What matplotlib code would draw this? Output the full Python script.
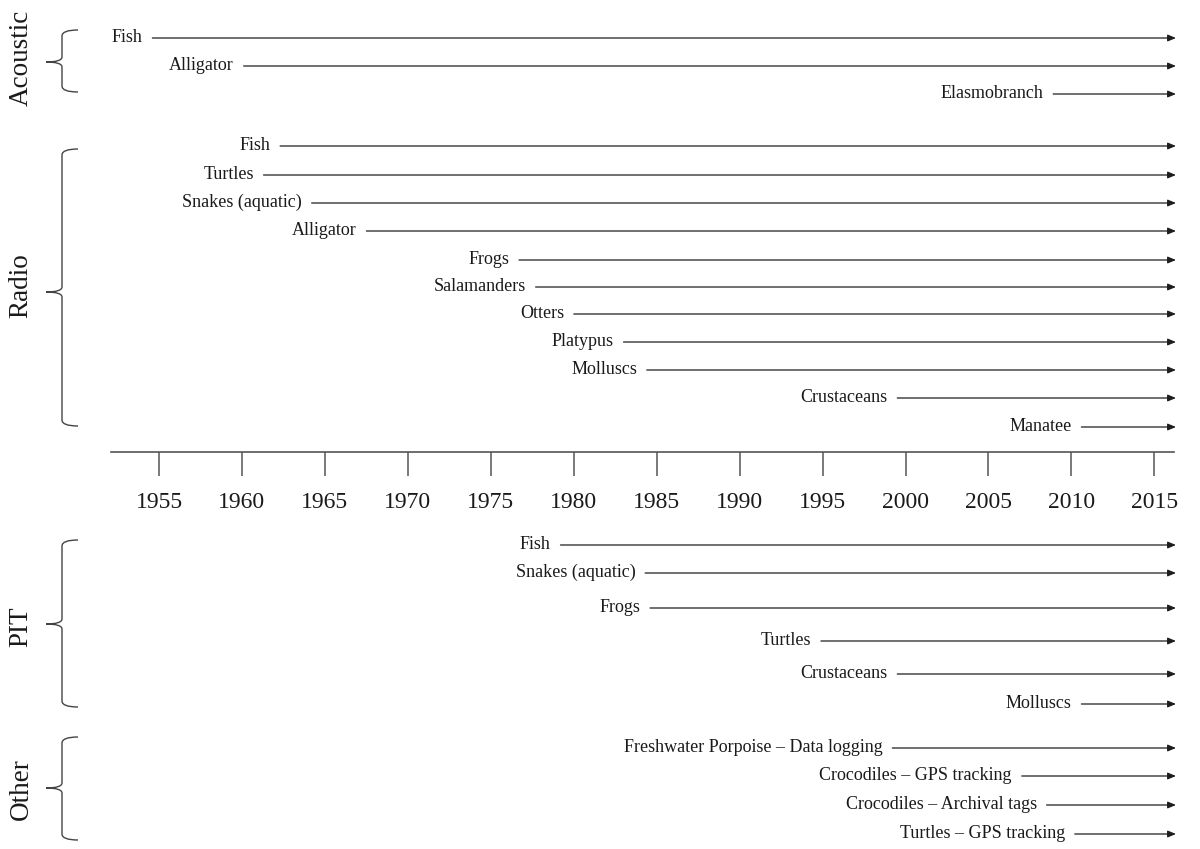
import matplotlib
matplotlib.use("Agg")
import matplotlib.pyplot as plt
from matplotlib.path import Path
from matplotlib.patches import PathPatch

plt.rcParams['font.family'] = ['Liberation Serif', 'DejaVu Serif']

# ---------------- data ----------------
end_year = 2016.3
tick_years = [1955, 1960, 1965, 1970, 1975, 1980, 1985, 1990, 1995, 2000, 2005, 2010, 2015]

acoustic_labels = ["Fish", "Alligator", "Elasmobranch"]
acoustic_start = [1954.6, 1960.1, 2008.9]

radio_labels = ["Fish", "Turtles", "Snakes (aquatic)", "Alligator", "Frogs", "Salamanders",
                "Otters", "Platypus", "Molluscs", "Crustaceans", "Manatee"]
radio_start = [1962.3, 1961.3, 1964.2, 1967.5, 1976.7, 1977.7,
               1980.0, 1983.0, 1984.4, 1999.5, 2010.6]

pit_labels = ["Fish", "Snakes (aquatic)", "Frogs", "Turtles", "Crustaceans", "Molluscs"]
pit_start = [1979.2, 1984.3, 1984.6, 1994.9, 1999.5, 2010.6]

other_labels = ["Freshwater Porpoise \u2013 Data logging", "Crocodiles \u2013 GPS tracking",
                "Crocodiles \u2013 Archival tags", "Turtles \u2013 GPS tracking"]
other_start = [1999.2, 2007.0, 2008.5, 2010.2]

group_names = ["Acoustic", "Radio", "PIT", "Other"]

# ---------------- layout (pixel rows) ----------------
W, H = 1200, 849
px_per_year = 16.59
x0_year = 1955 - 159 / px_per_year
x1_year = x0_year + W / px_per_year

rows_acoustic = [38, 66, 94]
rows_radio = [146, 175, 203, 231, 260, 287, 314, 342, 370, 398, 427]
rows_pit = [545, 573, 608, 641, 674, 704]
rows_other = [748, 776, 805, 834]

braces = [(30, 62, 92), (149, 292, 426), (540, 624, 707), (737, 788, 840)]
group_label_y = [58, 286, 627, 789]

fig = plt.figure(figsize=(W / 100, H / 100), dpi=100)
ax = fig.add_axes([0, 0, 1, 1])
ax.set_xlim(x0_year, x1_year)
ax.set_ylim(H, 0)
ax.axis('off')

line_color = '#1e1e1e'
text_color = '#1a1a1a'

groups = [
    (acoustic_labels, acoustic_start, rows_acoustic),
    (radio_labels, radio_start, rows_radio),
    (pit_labels, pit_start, rows_pit),
    (other_labels, other_start, rows_other),
]
for labels, starts, rows in groups:
    for lab, s, y in zip(labels, starts, rows):
        ax.annotate('', xy=(end_year, y), xytext=(s, y),
                    arrowprops=dict(arrowstyle='-|>,head_length=0.6,head_width=0.25',
                                    color=line_color, lw=0.9,
                                    mutation_scale=8, shrinkA=0, shrinkB=0))
        ax.annotate(lab, xy=(s, y), xytext=(-7, 0.5), textcoords='offset points',
                    ha='right', va='center', fontsize=13, color=text_color)

# braces and group labels in pixel coordinates
bax = fig.add_axes([0, 0, 1, 1], facecolor='none')
bax.set_xlim(0, W)
bax.set_ylim(H, 0)
bax.axis('off')
for (top, mid, bot), name, ly in zip(braces, group_names, group_label_y):
    xv, xt, xe = 62, 46, 78
    verts = [(xe, top), (xv, top), (xv, top + 6),
             (xv, mid - 5), (xv, mid), (xt, mid),
             (xv, mid), (xv, mid + 5),
             (xv, bot - 6), (xv, bot), (xe, bot)]
    codes = [Path.MOVETO, Path.CURVE3, Path.CURVE3,
             Path.LINETO, Path.CURVE3, Path.CURVE3,
             Path.CURVE3, Path.CURVE3,
             Path.LINETO, Path.CURVE3, Path.CURVE3]
    bax.add_patch(PathPatch(Path(verts, codes), fill=False, edgecolor='#444444', lw=1.0))
    bax.text(21, ly, name, rotation=90, ha='center', va='center', fontsize=19.5, color=text_color)

# timeline axis
axis_left_px, axis_right_px, axis_y_px = 111, 1174, 452
tax = fig.add_axes([axis_left_px / W, 1 - axis_y_px / H, (axis_right_px - axis_left_px) / W, 0.0001],
                   facecolor='none')
tax.set_xlim(x0_year + axis_left_px / px_per_year, x0_year + axis_right_px / px_per_year)
for side in ['top', 'left', 'right']:
    tax.spines[side].set_visible(False)
tax.spines['bottom'].set_color('#555555')
tax.spines['bottom'].set_linewidth(1.2)
tax.set_yticks([])
tax.set_xticks(tick_years)
tax.set_xticklabels([str(t) for t in tick_years])
tax.tick_params(axis='x', direction='out', length=17.5, width=1.1, color='#555555',
                labelsize=17, pad=11, labelcolor=text_color)

fig.savefig('out.png', dpi=100)
